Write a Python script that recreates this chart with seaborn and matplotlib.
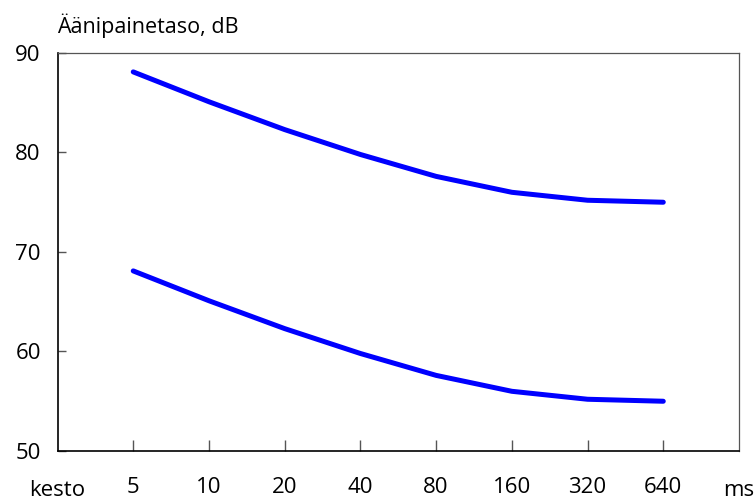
import matplotlib.pyplot as plt
import matplotlib.transforms as mtransforms
import seaborn as sns
import pandas as pd

# Data
durations = ["5", "10", "20", "40", "80", "160", "320", "640"]
upper_db = [88.1, 85.1, 82.3, 79.8, 77.6, 76.0, 75.2, 75.0]
lower_db = [68.1, 65.1, 62.3, 59.8, 57.6, 56.0, 55.2, 55.0]
y_ticks = [50, 60, 70, 80, 90]

df = pd.DataFrame({
    "kesto": durations * 2,
    "taso": upper_db + lower_db,
    "sarja": ["ylä"] * len(durations) + ["ala"] * len(durations),
})

sns.set_style("white", {"text.color": "black", "xtick.color": "black",
                        "ytick.color": "black"})
plt.rcParams['font.family'] = ['Open Sans', 'DejaVu Sans']

fig = plt.figure(figsize=(7.55, 4.99), dpi=100)
ax = fig.add_axes([0.0762, 0.0962, 0.9026, 0.7976])

sns.lineplot(data=df, x="kesto", y="taso", hue="sarja", units="sarja",
             estimator=None, palette=["#0000FF", "#0000FF"], linewidth=3.6,
             legend=False, sort=False, ax=ax, solid_capstyle="round")

ax.set_xlim(-1, 8)
ax.set_ylim(50, 90)
ax.set_yticks(y_ticks)
ax.set_xlabel("")
ax.set_ylabel("")

ax.tick_params(axis="x", direction="in", length=8, width=1, color="#555555",
               labelcolor="black", pad=19, labelsize=16)
ax.tick_params(axis="y", direction="in", length=6, width=1, color="#555555",
               labelcolor="black", pad=12, labelsize=16)
ax.tick_params(bottom=True, left=True)

for side in ["left", "bottom"]:
    ax.spines[side].set_color("black")
    ax.spines[side].set_linewidth(1.2)
for side in ["top", "right"]:
    ax.spines[side].set_color("#555555")
    ax.spines[side].set_linewidth(0.9)

# Axis captions
ax.text(0, 1.05, "Äänipainetaso, dB", transform=ax.transAxes,
        ha="left", va="baseline", fontsize=15.5, color="black")
trans = mtransforms.blended_transform_factory(ax.transData, ax.transAxes)
ax.text(-1, -0.098, "kesto", transform=trans, ha="center", va="center",
        fontsize=16, color="black")
ax.text(8, -0.098, "ms", transform=trans, ha="center", va="center",
        fontsize=16, color="black")

fig.savefig("out.png", dpi=100)
